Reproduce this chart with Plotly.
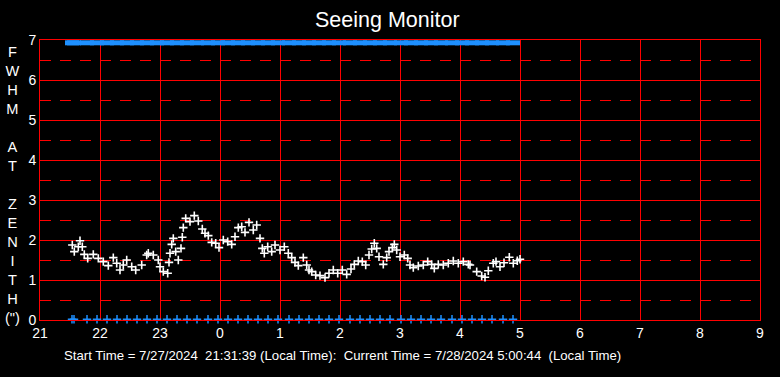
import plotly.graph_objects as go

# Seeing data: minutes after 21:00 local time, FWHM at zenith (arcsec)
seeing_minutes = [
    32.3, 34.3, 38.3, 40, 42.3, 44.3, 47.7, 53.3, 58.3, 63.3, 68.3, 73.3, 76.7, 80, 83.3,
    86.7, 91.7, 95.7, 101.7, 106.7, 108.3, 113.3, 118.3, 120, 123.3, 127.7, 129, 130, 131.7,
    133.3, 135.7, 138.3, 141, 142.3, 143.3, 145.7, 150, 154.3, 158.3, 162.3, 165, 168.3,
    171.7, 175.7, 179, 183.3, 187.7, 191.7, 195, 198.3, 201.7, 205, 209, 213.3, 216.7, 220,
    222.3, 224.3, 227.7, 231.7, 235, 240, 244.3, 248.3, 251.7, 255, 258.3, 263.3, 266.7, 269,
    271.7, 275.7, 280, 285, 289, 293.3, 297.7, 302.3, 306.7, 311, 314.3, 318.3, 322.3, 325.7,
    329, 331.7, 334.3, 336.7, 339, 343.3, 346.7, 349, 352.3, 354.3, 356.7, 360, 364.3, 367.7,
    370, 373.3, 378.3, 383.3, 387.7, 391.7, 394.3, 398.3, 403.3, 408.3, 413.3, 418.3, 423.3,
    428.3, 430, 436.7, 441.7, 445, 448.3, 453.3, 456, 460, 464, 469.3, 473.3, 477.3, 480,
]
seeing_fwhm = [
    1.875, 1.71, 1.83, 1.98, 1.83, 1.64, 1.54, 1.64, 1.54, 1.46, 1.36, 1.56, 1.42, 1.25, 1.375,
    1.5, 1.33, 1.25, 1.375, 1.625, 1.67, 1.625, 1.5, 1.33, 1.21, 1.17, 1.44, 1.67, 1.89,
    2.04, 1.71, 1.5, 1.79, 2.07, 2.31, 2.54, 2.46, 2.61, 2.475, 2.275, 2.17, 2.11,
    1.94, 1.92, 1.81, 2.0, 1.96, 1.89, 2.08, 2.31, 2.33, 2.19, 2.44, 2.25, 2.375, 2.04,
    1.79, 1.67, 1.83, 1.71, 1.875, 1.75, 1.83, 1.67, 1.56, 1.44, 1.36, 1.56, 1.375, 1.25,
    1.21, 1.125, 1.11, 1.06, 1.17, 1.25, 1.17, 1.25, 1.14, 1.275, 1.39, 1.475, 1.46, 1.375,
    1.625, 1.775, 1.92, 1.79, 1.58, 1.39, 1.56, 1.71, 1.81, 1.89, 1.75, 1.58, 1.625, 1.54,
    1.375, 1.31, 1.35, 1.375, 1.46, 1.39, 1.29, 1.39, 1.375, 1.42, 1.475, 1.42, 1.46,
    1.39, 1.375, 1.21, 1.1, 1.07, 1.23, 1.42, 1.46, 1.33, 1.43, 1.57, 1.42, 1.48, 1.52,
]

# Status indicator sample times (minutes after 21:00)
status_minutes = [
    32, 34, 47, 57, 67, 77, 87, 97, 107, 117, 127, 137, 147, 157, 168, 178, 188, 198, 208,
    218, 228, 238, 249, 259, 269, 279, 289, 299, 310, 320, 330, 340, 350, 361, 371, 381,
    391, 401, 412, 422, 432, 442, 452, 463, 473,
]
status_top_value = 6.93
status_bottom_value = 0.02

tick_hours = [21, 22, 23, 24, 25, 26, 27, 28, 29, 30, 31, 32, 33]
tick_labels = ["21", "22", "23", "0", "1", "2", "3", "4", "5", "6", "7", "8", "9"]
y_ticks = [0, 1, 2, 3, 4, 5, 6, 7]

title_text = "Seeing Monitor"
y_title_letters = ["F", "W", "H", "M", "", "A", "T", "", "Z", "E", "N", "I", "T", "H", "(\")"]
footer_text = ("Start Time = 7/27/2024  21:31:39 (Local Time):  "
               "Current Time = 7/28/2024 5:00:44  (Local Time)")

FONT = "Liberation Sans, Arial, sans-serif"
RED = "#ff0000"
BLUE = "#1e90ff"

x_seeing = [21 + m / 60 for m in seeing_minutes]
x_status = [21 + m / 60 for m in status_minutes]

fig = go.Figure()
fig.add_trace(go.Scatter(
    x=x_status, y=[status_top_value] * len(x_status), mode="markers",
    marker=dict(symbol="line-ew", size=10, line=dict(color=BLUE, width=5)),
    hoverinfo="skip", showlegend=False,
))
fig.add_trace(go.Scatter(
    x=x_status, y=[status_bottom_value] * len(x_status), mode="markers",
    marker=dict(symbol="cross-thin", size=6, line=dict(color=BLUE, width=1.5)),
    hoverinfo="skip", showlegend=False, cliponaxis=False,
))
fig.add_trace(go.Scatter(
    x=x_seeing, y=seeing_fwhm, mode="markers",
    marker=dict(symbol="cross-thin", size=6, line=dict(color="white", width=1.6)),
    showlegend=False,
))

fig.update_layout(
    width=780, height=377,
    paper_bgcolor="black", plot_bgcolor="black",
    margin=dict(l=40, r=20, t=40, b=57, autoexpand=False),
    font=dict(family=FONT, color="white", size=14),
    xaxis=dict(
        range=[21, 33], tickvals=tick_hours, ticktext=tick_labels, automargin=False,
        showgrid=True, gridcolor=RED, gridwidth=1,
        showline=True, linecolor=RED, linewidth=1, mirror=True,
        zeroline=False, ticks="", tickfont=dict(size=14, color="white"),
    ),
    yaxis=dict(
        range=[0, 7], tickvals=y_ticks, automargin=False,
        showgrid=True, gridcolor=RED, gridwidth=1,
        showline=True, linecolor=RED, linewidth=1, mirror=True,
        zeroline=False, ticks="", tickfont=dict(size=14, color="white"),
        minor=dict(dtick=0.5, tick0=0, showgrid=True, gridcolor=RED,
                   gridwidth=1, griddash="11px,9px", ticks=""),
    ),
)

fig.add_annotation(
    text=title_text, xref="paper", yref="paper",
    x=347 / 720, y=1, yshift=20, xanchor="center", yanchor="middle",
    showarrow=False, font=dict(size=21.5, color="white", family=FONT),
)
fig.add_annotation(
    text="<br>".join(y_title_letters), xref="paper", yref="paper",
    x=-28 / 720, y=0.5, yshift=-4.5, xanchor="center", yanchor="middle", showarrow=False,
    font=dict(size=14.6, color="white", family=FONT), align="center",
)
fig.add_annotation(
    text=footer_text, xref="paper", yref="paper",
    x=302 / 720, y=0, yshift=-35, xanchor="center", yanchor="middle",
    showarrow=False, font=dict(size=13.2, color="white", family=FONT),
)

# remove the default page margin so the 780x377 figure fills the window exactly
fig.write_html(
    "out.html",
    config={"displayModeBar": False},
    post_script="document.body.style.margin='0';document.body.style.background='black';",
)
